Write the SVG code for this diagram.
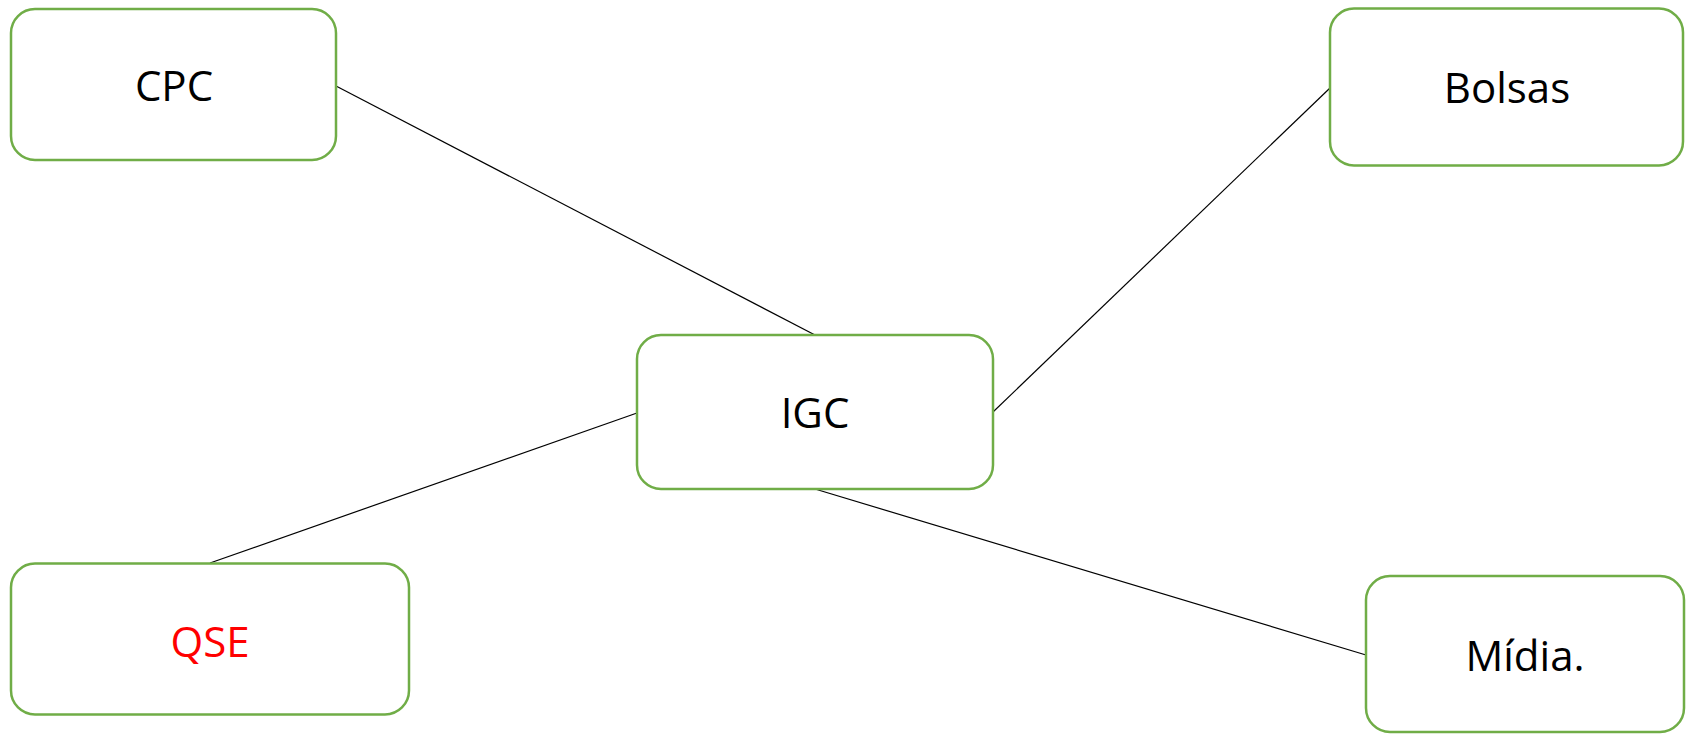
<svg xmlns="http://www.w3.org/2000/svg" width="1692" height="734" viewBox="0 0 1692 734">
  <style>
    .box { fill: #ffffff; stroke: #70AD47; stroke-width: 2.5; }
    .lbl { font-family: "Open Sans", "Liberation Sans", sans-serif; font-size: 42px; fill: #000000; text-anchor: middle; }
    .red { fill: #FF0000; }
    .link { stroke: #000000; stroke-width: 1.2; fill: none; }
  </style>
  <rect width="1692" height="734" fill="#ffffff"/>

  <!-- connectors from the central node -->
  <g id="connectors">
    <line class="link" x1="336" y1="86" x2="815" y2="335"/>
    <line class="link" x1="1330" y1="88" x2="993" y2="412"/>
    <line class="link" x1="637" y1="413" x2="210" y2="563"/>
    <line class="link" x1="815" y1="489" x2="1366" y2="655"/>
  </g>

  <g id="node-cpc">
    <rect class="box" x="11" y="9" width="325" height="151" rx="24"/>
    <text class="lbl" x="174" y="101">CPC</text>
  </g>

  <g id="node-bolsas">
    <rect class="box" x="1330" y="8.5" width="353" height="157" rx="24"/>
    <text class="lbl" x="1507" y="103">Bolsas</text>
  </g>

  <g id="node-igc">
    <rect class="box" x="637" y="335" width="356" height="154" rx="24"/>
    <text class="lbl" x="815" y="428">IGC</text>
  </g>

  <g id="node-qse">
    <rect class="box" x="11" y="563.5" width="398" height="151" rx="24"/>
    <text class="lbl red" x="210" y="657">QSE</text>
  </g>

  <g id="node-midia">
    <rect class="box" x="1366" y="576" width="318" height="156" rx="24"/>
    <text class="lbl" x="1525" y="671">Mídia.</text>
  </g>
</svg>
